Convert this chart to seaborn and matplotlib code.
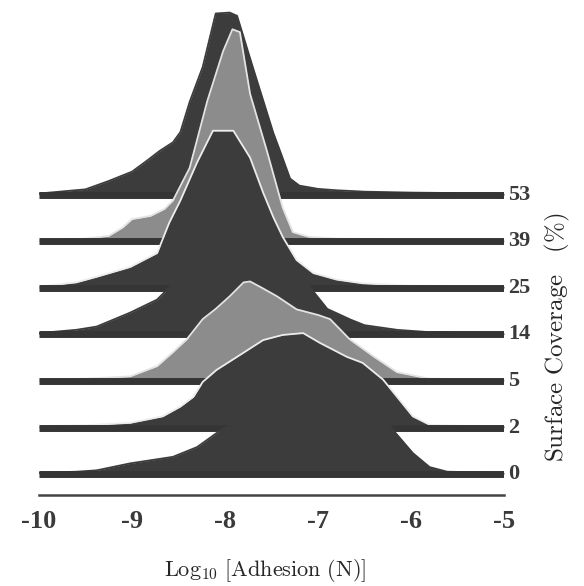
import numpy as np
import pandas as pd
import seaborn as sns
import matplotlib.pyplot as plt

# surface coverage (%) of each ridge, bottom to top
coverage = [0, 2, 5, 14, 25, 39, 53]

# log10 adhesion knots and ridge heights (height in units of ridge spacing)
x0 = [-10, -9.6, -9.38, -9.02, -8.56, -8.3, -8.05, -7.95, -7.6, -7.2, -6.9, -6.58,
      -6.4, -6.19, -5.98, -5.8, -5.61, -5.3, -5]
h0 = [0.03, 0.05, 0.08, 0.23, 0.37, 0.58, 0.94, 1.05, 1.6, 2.1, 2.2, 1.86,
      1.5, 0.94, 0.45, 0.15, 0.05, 0.04, 0.03]

x2 = [-10, -9.5, -9.02, -8.67, -8.48, -8.34, -8.24, -8.09, -7.87, -7.59, -7.38,
      -7.16, -6.98, -6.69, -6.52, -6.3, -6.15, -5.98, -5.8, -5.5, -5]
h2 = [0.03, 0.05, 0.1, 0.24, 0.45, 0.66, 0.98, 1.24, 1.52, 1.88, 1.99,
      2.03, 1.82, 1.52, 1.39, 1.03, 0.66, 0.24, 0.06, 0.04, 0.03]

x5 = [-10, -9.5, -9.02, -8.73, -8.56, -8.41, -8.24, -8.1, -7.95, -7.8, -7.73,
      -7.6, -7.44, -7.23, -7.0, -6.87, -6.66, -6.41, -6.15, -5.8, -5]
h5 = [0.03, 0.05, 0.1, 0.32, 0.62, 0.9, 1.33, 1.55, 1.82, 2.12, 2.14,
      2.0, 1.82, 1.54, 1.42, 1.33, 0.9, 0.54, 0.19, 0.05, 0.03]

x14 = [-10, -9.6, -9.38, -9.02, -8.73, -8.59, -8.48, -8.25, -8.0, -7.75, -7.5,
       -7.25, -7.1, -6.9, -6.65, -6.5, -6.15, -5.8, -5]
h14 = [0.03, 0.1, 0.17, 0.47, 0.75, 1.03, 1.33, 2.0, 2.5, 2.6, 2.2,
       1.55, 1.05, 0.55, 0.32, 0.2, 0.1, 0.05, 0.03]

x25 = [-10, -9.6, -9.38, -9.02, -8.73, -8.6, -8.48, -8.3, -8.13, -7.91, -7.73,
       -7.59, -7.48, -7.38, -7.23, -7.05, -6.8, -6.52, -6.0, -5]
h25 = [0.03, 0.12, 0.24, 0.45, 0.75, 1.4, 1.88, 2.7, 3.38, 3.38, 2.8,
       2.05, 1.52, 1.1, 0.6, 0.32, 0.18, 0.1, 0.05, 0.03]

x39 = [-10, -9.5, -9.25, -9.1, -9.0, -8.8, -8.65, -8.56, -8.38, -8.19, -8.02,
       -7.92, -7.84, -7.73, -7.55, -7.38, -7.27, -7.1, -6.8, -6.0, -5]
h39 = [0.03, 0.06, 0.12, 0.3, 0.48, 0.55, 0.7, 0.88, 1.58, 3.02, 4.09,
       4.56, 4.5, 3.17, 1.95, 0.73, 0.2, 0.1, 0.06, 0.04, 0.03]

x53 = [-10, -9.5, -9.25, -9.0, -8.85, -8.7, -8.56, -8.48, -8.38, -8.24, -8.1,
       -7.95, -7.87, -7.7, -7.48, -7.4, -7.3, -7.2, -7.0, -6.8, -6.5, -6.0, -5]
h53 = [0.03, 0.12, 0.3, 0.5, 0.72, 0.95, 1.13, 1.35, 2.0, 2.75, 3.9,
       3.92, 3.85, 2.74, 1.33, 0.9, 0.35, 0.2, 0.13, 0.1, 0.07, 0.05, 0.03]

xticks = [-10, -9, -8, -7, -6, -5]

ridges = pd.concat([
    pd.DataFrame({"coverage": c, "log_adhesion": xs, "height": hs})
    for c, xs, hs in zip(coverage, [x0, x2, x5, x14, x25, x39, x53],
                         [h0, h2, h5, h14, h25, h39, h53])
])

dark = "#3c3c3c"
speckle = "#8c8c8c"
fill_colors = [dark, dark, speckle, dark, dark, speckle, dark]
edge_colors = [dark, "#ececec", "#e4e4e4", dark, "#ececec", "#e4e4e4", dark]

sns.set_style("white")
plt.rcParams["mathtext.fontset"] = "cm"
plt.rcParams["font.family"] = ["Liberation Serif", "DejaVu Serif"]

fig = plt.figure(figsize=(5.84, 5.86), dpi=100)
ax = fig.add_axes([39 / 584, 91 / 586, 465 / 584, 495 / 586])

# top ridge first so lower ridges sit in front
for i in reversed(range(len(coverage))):
    c = coverage[i]
    sub = ridges[ridges["coverage"] == c]
    base = i
    z = 10 + (len(coverage) - i) * 3
    ax.fill_between(sub["log_adhesion"], base, base + sub["height"],
                    color=fill_colors[i], linewidth=0, zorder=z)
    sns.lineplot(x=sub["log_adhesion"].values, y=base + sub["height"].values,
                 color=edge_colors[i], linewidth=1.3, sort=False, ax=ax, zorder=z + 1)
    ax.plot([-10, -5], [base, base], color="#353535", linewidth=5,
            solid_capstyle="butt", zorder=z + 2)
    ax.text(-4.955, base, str(c), ha="left", va="center", fontsize=16,
            fontweight="bold", color="#3a3a3a", clip_on=False)

ax.set_xlim(-10, -5)
ax.set_ylim(-0.45, 10.19)
ax.set_xticks(xticks)
ax.set_xticklabels([str(t) for t in xticks], fontweight="bold")
ax.set_yticks([])
for side in ["left", "top", "right"]:
    ax.spines[side].set_visible(False)
ax.spines["bottom"].set_color("#444444")
ax.spines["bottom"].set_linewidth(1.8)
ax.tick_params(axis="x", direction="in", length=6.5, width=1.5, color="#444444",
               labelsize=19, labelcolor="#3a3a3a", pad=11)
ax.set_xlabel("")
ax.set_ylabel("")

fig.text(265 / 584, 1 - 571 / 586, r"$\mathrm{Log}_{10}\ [\mathrm{Adhesion\ (N)}]$",
         ha="center", va="center", fontsize=16)
fig.text(557 / 584, 1 - 337 / 586, r"$\mathrm{Surface\ Coverage}\quad(\%)$",
         ha="center", va="center", rotation=90, fontsize=18)

fig.savefig("out.png", dpi=100)
